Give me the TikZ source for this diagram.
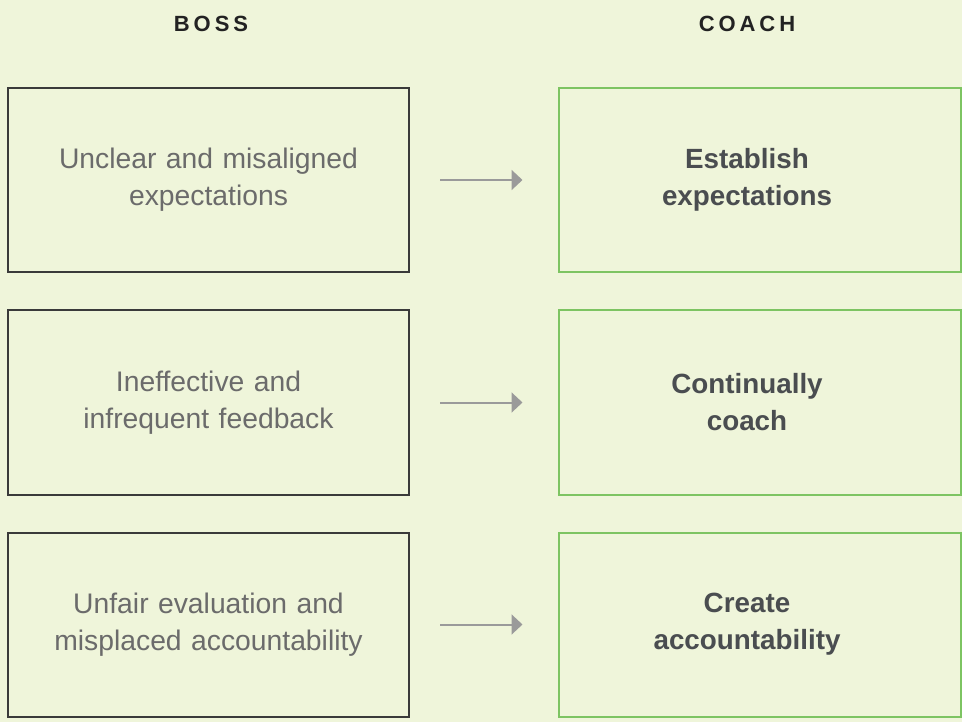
\documentclass[tikz,border=0pt]{standalone}
\usepackage{fontspec}
\setmainfont{Liberation Sans}
\newfontfamily\headfont[LetterSpace=18]{Liberation Sans}
\usetikzlibrary{arrows.meta}
\definecolor{bgcol}{HTML}{EFF5DA}
\definecolor{bossline}{HTML}{3A3A3A}
\definecolor{coachline}{HTML}{7DC462}
\definecolor{bosstext}{HTML}{6B6B6B}
\definecolor{coachtext}{HTML}{4A4D50}
\definecolor{arrowcol}{HTML}{9A9A9A}
\definecolor{headcol}{HTML}{222222}
\tikzset{
  bossbox/.style={draw=bossline, line width=2pt, minimum width=401pt, minimum height=184pt,
    text width=380pt, align=center, text=bosstext, font=\fontsize{28.3}{37}\selectfont},
  coachbox/.style={draw=coachline, line width=2pt, minimum width=402pt, minimum height=184pt},
  coachlabel/.style={text width=380pt, align=center, text=coachtext, font=\fontsize{27.8}{37}\selectfont\bfseries},
  header/.style={text=headcol, font=\fontsize{22}{24}\selectfont\headfont\bfseries},
  turnarrow/.style={draw=arrowcol, line width=2pt, -{Triangle[length=11pt,width=20pt]}}
}
\begin{document}
\begin{tikzpicture}[x=1pt,y=-1pt]
\fill[bgcol] (0,0) rectangle (962,722);
\useasboundingbox (0,0) rectangle (962,722);
% column heads
\node[header] (bosshead) at (211,24) {BOSS};
\node[header] (coachhead) at (747,24) {COACH};
% boss side
\node[bossbox] (b1) at (208.5,180) {Unclear and misaligned\\expectations};
\node[bossbox] (b2) at (208.5,402.5) {Ineffective and\\infrequent feedback};
\node[bossbox] (b3) at (208.5,624.5) {Unfair evaluation and\\misplaced accountability};
% coach side
\node[coachbox] (c1) at (759.5,180) {};
\node[coachbox] (c2) at (759.5,402.5) {};
\node[coachbox] (c3) at (759.5,624.5) {};
\node[coachlabel] (c1t) at (c1 -| coachhead) {Establish\\expectations};
\node[coachlabel] (c2t) at (c2 -| coachhead) {Continually\\coach};
\node[coachlabel] (c3t) at (c3 -| coachhead) {Create\\accountability};
% arrows
\foreach \i in {1,2,3}
  \draw[turnarrow] ([xshift=30pt]b\i.east) -- ([xshift=-35pt]c\i.west);
\end{tikzpicture}
\end{document}
